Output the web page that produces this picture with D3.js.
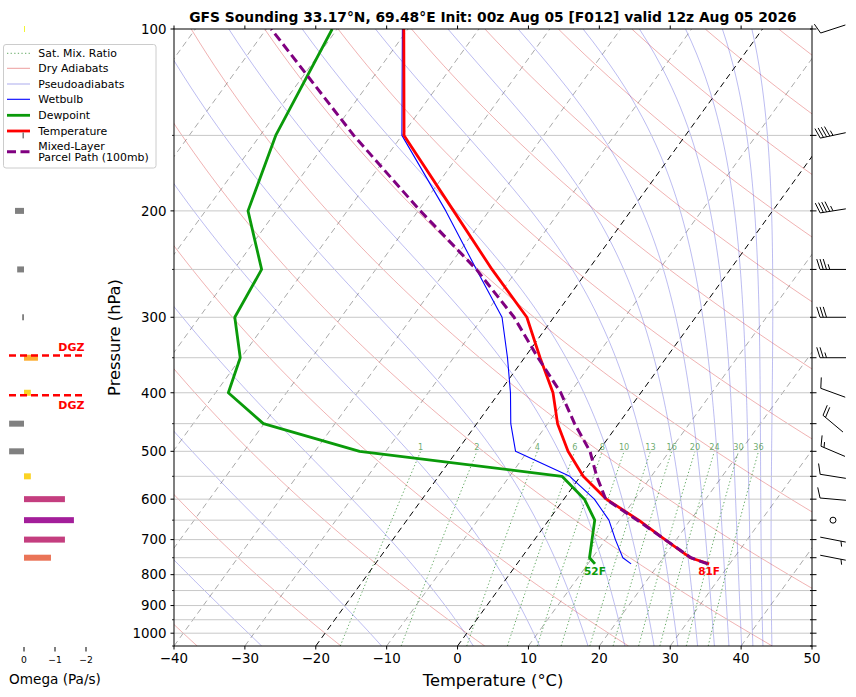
<!DOCTYPE html>
<html><head><meta charset="utf-8">
<script src="https://cdn.jsdelivr.net/npm/d3@7"></script>
<style>body{margin:0;background:#fff;} svg{font-family:"DejaVu Sans",sans-serif;}</style>
</head><body><svg id="c" width="856" height="697"></svg>
<script>
// ---------------- DATA ----------------
const titleText = "GFS Sounding 33.17°N, 69.48°E Init: 00z Aug 05 [F012] valid 12z Aug 05 2026";
const pressure    = [768, 750, 700, 650, 600, 550, 500, 450, 400, 350, 300, 250, 200, 150, 100];
const temperature = [27.1, 23.8, 18.4, 12.7, 6.0, 0.4, -4.3, -8.6, -12.4, -17.8, -23.8, -33.6, -45.0, -59.7, -70.6];
const dewpoint    = [11.0, 9.6, 8.1, 6.5, 2.9, -2.6, -33.7, -50.1, -58.2, -60.1, -65.0, -66.1, -74.0, -77.8, -80.7];
const wetbulb     = [16.1, 14.3, 11.4, 8.5, 4.3, -1.5, -11.7, -15.2, -18.4, -22.4, -27.3, -35.8, -46.1, -60.0, -70.8];
const parcelTemp  = [26.9, 23.9, 18.4, 12.5, 5.9, 2.3, -1.2, -6.2, -11.3, -18.1, -25.6, -35.8, -49.7, -66.8, -89.3];

const windP     = [100, 150, 200, 250, 300, 350, 400, 450, 500, 550, 600, 650, 700, 750];
const windDir   = [252, 258, 261, 270, 270, 270, 290, 310, 293, 279, 275, 0, 101, 101];
const windSpeed = [10, 45, 45, 35, 30, 25, 10, 20, 15, 10, 10, 0, 5, 5];

const omegaP   = [100, 150, 200, 250, 300, 350, 400, 450, 500, 550, 600, 650, 700, 750];
const omegaVal = [-0.03, 0.05, 0.29, 0.22, 0.06, -0.45, -0.22, 0.48, 0.48, -0.22, -1.32, -1.61, -1.32, -0.87];
const dgzP = [347, 404];

const tempTicks = [-40, -30, -20, -10, 0, 10, 20, 30, 40, 50];
const presTicks = [100, 200, 300, 400, 500, 600, 700, 800, 900, 1000];
const omegaTicks = [0, -1, -2];
const mixRatios = [1, 2, 4, 6, 8, 10, 13, 16, 20, 24, 30, 36];
const dryT0 = d3.range(-40, 241, 20);          // potential temperature, degC
const thetaE = d3.range(-30, 251, 20);          // equivalent potential temperature, degC
const isotherms = d3.range(-140, 51, 10);
const highlightIso = [0, -20];

// ---------------- GEOMETRY ----------------
const L = 174, R = 812, T = 29, B = 646;
const svg = d3.select('#c');
const yP = d3.scaleLog().domain([100, 1050]).range([T, B]);
const xT = d3.scaleLinear().domain([-40, 50]).range([L, R]);
const skew = Math.tan(35 * Math.PI / 180) * (R - L) / (B - T);
const px = (t, p) => xT(t) + (B - yP(p)) * skew;
const xO = d3.scaleLinear().domain([0.5, -2.5]).range([8.5, 101.5]);

svg.append('defs').append('clipPath').attr('id', 'clip')
  .append('rect').attr('x', L).attr('y', T).attr('width', R - L).attr('height', B - T);

const plot = svg.append('g').attr('clip-path', 'url(#clip)');
const line = d3.line().x(d => px(d[1], d[0])).y(d => yP(d[0]));

const bgP = d3.range(1050, 99, -5);

// dry adiabats
const dryLines = dryT0.map(t0 => bgP.map(p => [p, (t0 + 273.15) * Math.pow(p / 1000, 0.28571) - 273.15]));
// pseudoadiabats as lines of constant saturated theta-e (Bolton)
function thetaESat(Tk, p) {
  const es = 6.112 * Math.exp(17.67 * (Tk - 273.15) / (Tk - 29.65));
  const r = 1000 * 0.62197 * es / (p - es);
  return Tk * Math.pow(1000 / p, 0.2854 * (1 - 0.28e-3 * r)) * Math.exp((3.376 / Tk - 0.00254) * r * (1 + 0.81e-3 * r));
}
function solveT(te, p) {
  let lo = 150, hi = 340;
  for (let i = 0; i < 50; i++) {
    const mid = (lo + hi) / 2;
    if (thetaESat(mid, p) > te) hi = mid; else lo = mid;
  }
  return (lo + hi) / 2;
}
const moistLines = thetaE.map(te => bgP.map(p => [p, solveT(te + 273.15, p) - 273.15]));
// mixing ratio lines
function tdFromW(wgkg, p) {
  const w = wgkg / 1000; const e = p * w / (0.62197 + w);
  const v = Math.log(e / 6.112); return 243.5 * v / (17.67 - v);
}
const mixP = d3.range(1050, 499, -10);
const mixLines = mixRatios.map(w => mixP.map(p => [p, tdFromW(w, p)]));

// draw background
const gBg = plot.append('g').attr('fill', 'none');
gBg.selectAll('.iso').data(isotherms.filter(t => !highlightIso.includes(t))).join('path')
  .attr('d', t => line([[1050, t], [100, t]])).attr('stroke', '#9a9a9a').attr('stroke-width', 1)
  .attr('stroke-dasharray', '6,4').attr('opacity', 0.85);
gBg.selectAll('.dry').data(dryLines).join('path').attr('d', line)
  .attr('stroke', '#d62728').attr('stroke-opacity', 0.45).attr('stroke-width', 0.8);
gBg.selectAll('.moist').data(moistLines).join('path').attr('d', line)
  .attr('stroke', '#2020d0').attr('stroke-opacity', 0.38).attr('stroke-width', 0.8);
gBg.selectAll('.mix').data(mixLines).join('path').attr('d', line)
  .attr('stroke', '#2e8b2e').attr('stroke-opacity', 0.75).attr('stroke-width', 1).attr('stroke-dasharray', '1.3,2.3');
gBg.selectAll('.grid').data(d3.range(150, 1050, 50)).join('line')
  .attr('x1', L).attr('x2', R).attr('y1', d => yP(d)).attr('y2', d => yP(d))
  .attr('stroke', '#c8c8c8').attr('stroke-width', 1);
gBg.selectAll('.hiso').data(highlightIso).join('path')
  .attr('d', t => line([[1050, t], [100, t]])).attr('stroke', '#000').attr('stroke-width', 1)
  .attr('stroke-dasharray', '6,4');
plot.selectAll('.mixlab').data(mixRatios).join('text')
  .attr('x', w => px(tdFromW(w, 500), 500)).attr('y', yP(500) - 1.5)
  .attr('text-anchor', 'middle').attr('font-size', 8.2).attr('fill', '#3a8f3a').attr('fill-opacity', 0.75)
  .text(w => w);

// profiles
const prof = vals => pressure.map((p, i) => [p, vals[i]]);
const gP = plot.append('g').attr('fill', 'none').attr('stroke-linejoin', 'round');
gP.append('path').attr('d', line(prof(wetbulb))).attr('stroke', '#0000ff').attr('stroke-width', 1.1);
gP.append('path').attr('d', line(prof(dewpoint))).attr('stroke', '#0a9a0a').attr('stroke-width', 2.8);
gP.append('path').attr('d', line(prof(temperature))).attr('stroke', '#ff0000').attr('stroke-width', 2.8);
gP.append('path').attr('d', line(prof(parcelTemp))).attr('stroke', '#800080').attr('stroke-width', 3)
  .attr('stroke-dasharray', '9,4.5');

const sfcY = yP(pressure[0]) + 11;
const toF = c => Math.round(c * 9 / 5 + 32) + 'F';
svg.append('text').attr('x', px(dewpoint[0], pressure[0])).attr('y', sfcY).attr('text-anchor', 'middle')
  .attr('font-size', 10.5).attr('font-weight', 'bold').attr('fill', '#0a9a0a').text(toF(dewpoint[0]));
svg.append('text').attr('x', px(temperature[0], pressure[0])).attr('y', sfcY).attr('text-anchor', 'middle')
  .attr('font-size', 10.5).attr('font-weight', 'bold').attr('fill', '#ff0000').text(toF(temperature[0]));

svg.append('rect').attr('x', L).attr('y', T).attr('width', R - L).attr('height', B - T)
  .attr('fill', 'none').attr('stroke', '#000').attr('stroke-width', 1);

const ax = svg.append('g');
tempTicks.forEach(t => {
  const x = xT(t);
  ax.append('line').attr('x1', x).attr('x2', x).attr('y1', B).attr('y2', B + 3.5).attr('stroke', '#000');
  ax.append('line').attr('x1', x).attr('x2', x).attr('y1', T).attr('y2', T - 3.5).attr('stroke', '#000');
  ax.append('text').attr('x', x).attr('y', B + 17).attr('text-anchor', 'middle').attr('font-size', 13.4)
    .text(t < 0 ? '\u2212' + Math.abs(t) : t);
});
presTicks.forEach(p => {
  const y = yP(p);
  ax.append('line').attr('x1', L).attr('x2', L - 3.5).attr('y1', y).attr('y2', y).attr('stroke', '#000');
  ax.append('text').attr('x', L - 7.5).attr('y', y).attr('dy', '0.36em').attr('text-anchor', 'end').attr('font-size', 13.4).text(p);
});
d3.range(150, 1051, 100).forEach(p => {
  const y = yP(p);
  ax.append('line').attr('x1', L).attr('x2', L - 2).attr('y1', y).attr('y2', y).attr('stroke', '#000').attr('stroke-width', 0.8);
});
d3.range(100, 1051, 50).forEach(p => {
  const y = yP(p);
  ax.append('line').attr('x1', R - 2).attr('x2', R + 4.5).attr('y1', y).attr('y2', y).attr('stroke', '#000').attr('stroke-width', 1);
});
svg.append('text').attr('x', (L + R) / 2).attr('y', 686).attr('text-anchor', 'middle').attr('font-size', 16.3).text('Temperature (°C)');
svg.append('text').attr('transform', `translate(120,${(T + B) / 2}) rotate(-90)`).attr('text-anchor', 'middle')
  .attr('font-size', 16.3).text('Pressure (hPa)');
const title = svg.append('text').attr('x', (L + R) / 2).attr('y', 21.5).attr('text-anchor', 'middle')
  .attr('font-size', 12).attr('font-weight', 'bold').text(titleText);
const tl = title.node().getComputedTextLength();
title.attr('font-size', 12 * 608 / tl);

// wind barbs
const gW = svg.append('g').attr('stroke', '#000').attr('stroke-width', 1).attr('fill', 'none');
const bx = 833, Lb = 26;
windP.forEach((p, i) => {
  const cy = yP(p), spd = windSpeed[i];
  if (spd < 2.5) { gW.append('circle').attr('cx', bx).attr('cy', cy).attr('r', 3); return; }
  const r = Math.round(spd / 5) * 5;
  const nf = Math.floor(r / 50), rem = r - nf * 50, nb = Math.floor(rem / 10), half = rem - nb * 10 >= 5;
  const a = windDir[i] * Math.PI / 180;
  const ux = Math.sin(a), uy = -Math.cos(a), nx = -uy, ny = ux;
  const tx = bx - ux * Lb / 2, ty = cy - uy * Lb / 2;
  const P = (s, h) => [tx + ux * s + nx * h, ty + uy * s + ny * h];
  const fh = 0.4 * Lb, fw = 0.25 * Lb, sp = 0.125 * Lb;
  let d = `M${P(0, 0)}L${P(Lb, 0)}`;
  let off = Lb;
  for (let k = 0; k < nf; k++) {
    gW.append('path').attr('d', `M${P(off, 0)}L${P(off - fw / 2, fh)}L${P(off - fw, 0)}Z`).attr('fill', '#000');
    off -= fw + sp;
  }
  for (let k = 0; k < nb; k++) { d += `M${P(off, 0)}L${P(off + fw / 2, fh)}`; off -= sp; }
  if (half) {
    if (off === Lb) off -= 1.5 * sp;
    d += `M${P(off, 0)}L${P(off + fw / 4, fh / 2)}`;
  }
  gW.append('path').attr('d', d);
});

// legend
const lg = svg.append('g');
lg.append('rect').attr('x', 3.5).attr('y', 44.5).attr('width', 152.5).attr('height', 123.5).attr('rx', 2.5)
  .attr('fill', '#fff').attr('fill-opacity', 0.8).attr('stroke', '#cccccc').attr('stroke-width', 1);
const legItems = [
  {lab: ['Sat. Mix. Ratio'], y: 53.3, stroke: '#2e8b2e', w: 1, dash: '1.3,2.3', op: 0.75},
  {lab: ['Dry Adiabats'], y: 68.3, stroke: '#d62728', w: 1, dash: null, op: 0.45},
  {lab: ['Pseudoadiabats'], y: 84, stroke: '#2020d0', w: 1, dash: null, op: 0.38},
  {lab: ['Wetbulb'], y: 99.3, stroke: '#0000ff', w: 1.1, dash: null, op: 1},
  {lab: ['Dewpoint'], y: 115.3, stroke: '#0a9a0a', w: 2.8, dash: null, op: 1},
  {lab: ['Temperature'], y: 131, stroke: '#ff0000', w: 2.8, dash: null, op: 1},
  {lab: ['Mixed-Layer', 'Parcel Path (100mb)'], y: 151.8, stroke: '#800080', w: 3, dash: '9,4.5', op: 1}
];
legItems.forEach(it => {
  lg.append('line').attr('x1', 7).attr('x2', 30).attr('y1', it.y).attr('y2', it.y).attr('stroke', it.stroke)
    .attr('stroke-width', it.w).attr('stroke-opacity', it.op).attr('stroke-dasharray', it.dash);
  const t = lg.append('text').attr('x', 38.3).attr('font-size', 10.9);
  if (it.lab.length === 1) t.attr('y', it.y).attr('dy', '0.36em').text(it.lab[0]);
  else it.lab.forEach((s, j) => t.append('tspan').attr('x', 38.3).attr('y', it.y - 5.8 + j * 11.3).attr('dy', '0.36em').text(s));
});

// omega panel
const gO = svg.append('g');
omegaP.forEach((p, i) => {
  const w = omegaVal[i];
  const x0 = xO(0), x1 = xO(w);
  gO.append('rect').attr('x', Math.min(x0, x1)).attr('y', yP(p) - 3).attr('width', Math.abs(x1 - x0)).attr('height', 6)
    .attr('fill', w > 0 ? '#808080' : d3.interpolatePlasma(1 + w / 2.5));
});
dgzP.forEach((p, i) => {
  const y = yP(p);
  gO.append('line').attr('x1', xO(0.5) + 0.5).attr('x2', xO(-1.95)).attr('y1', y).attr('y2', y)
    .attr('stroke', '#ff0000').attr('stroke-width', 2.5).attr('stroke-dasharray', '7,4');
  gO.append('text').attr('x', xO(-1.95)).attr('y', i === 0 ? y - 4 : y + 13.5).attr('text-anchor', 'end')
    .attr('font-size', 11).attr('font-weight', 'bold').attr('fill', '#ff0000').text('DGZ');
});
omegaTicks.forEach(v => {
  const x = xO(v);
  gO.append('line').attr('x1', x).attr('x2', x).attr('y1', B + 1).attr('y2', B + 5.5).attr('stroke', '#000');
  gO.append('text').attr('x', x).attr('y', 663.3).attr('text-anchor', 'middle').attr('font-size', 9.2)
    .text(v < 0 ? '\u2212' + Math.abs(v) : v);
});
gO.append('text').attr('x', 55).attr('y', 683.5).attr('text-anchor', 'middle').attr('font-size', 13.6).text('Omega (Pa/s)');
</script></body></html>
